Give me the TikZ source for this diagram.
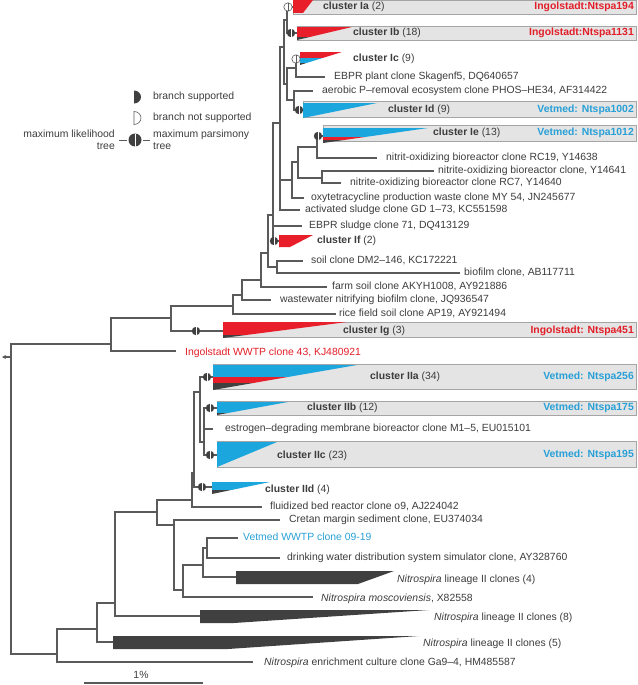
\documentclass[tikz,border=0pt]{standalone}
\usepackage{fontspec}
\setmainfont{Liberation Sans}
\usetikzlibrary{arrows.meta}
\definecolor{cred}{RGB}{232,30,42}
\definecolor{cblue}{RGB}{28,166,222}
\definecolor{cdark}{RGB}{64,64,64}
\definecolor{lgray}{RGB}{90,90,90}
\definecolor{txt}{RGB}{60,60,60}
\definecolor{boxfill}{RGB}{228,228,228}
\definecolor{boxline}{RGB}{165,165,165}
\definecolor{tred}{RGB}{226,30,40}
\definecolor{tblue}{RGB}{40,160,215}
\tikzset{
 br/.style={draw=lgray, line width=1.1pt},
 lab/.style={anchor=mid west, inner sep=0pt, text=txt, font=\fontsize{10.4}{12}\selectfont},
 rlab/.style={anchor=mid east, inner sep=0pt, font=\fontsize{10.4}{12}\selectfont\bfseries},
 cbox/.style={fill=boxfill, draw=boxline, line width=0.6pt},
}
\newcommand\supmark[1]{%
  \fill[cdark] (#1) circle[radius=4.2pt];
  \draw[white, line width=0.7pt] ([yshift=4.2pt]#1) -- ([yshift=-4.2pt]#1);}
\newcommand\nsupmark[1]{%
  \filldraw[fill=white, draw=lgray, line width=0.6pt] (#1) circle[radius=4.2pt];
  \draw[lgray, line width=0.6pt] ([yshift=4.2pt]#1) -- ([yshift=-4.2pt]#1);}
\begin{document}
\begin{tikzpicture}[x=1pt, y=-1pt]
\useasboundingbox (0,0) rectangle (637,685);
% ---------- boxes ----------
\path[cbox] (293,0) rectangle (636,14);
\path[cbox] (297,26) rectangle (636,40);
\path[cbox] (303,101) rectangle (636,117);
\path[cbox] (323,125) rectangle (636,141);
\path[cbox] (223,322) rectangle (636,337);
\path[cbox] (213,364) rectangle (636,389);
\path[cbox] (217,401) rectangle (636,415);
\path[cbox] (217,441) rectangle (636,467);
% ---------- tree coordinates ----------
\coordinate (R) at (11,357);
\coordinate (Rarr) at (2,357);
\coordinate (T) at (111,344);
\coordinate (U) at (171,318);
\coordinate (Lwwtp) at (176,351);
\coordinate (Q1) at (233,306);
\coordinate (Q2) at (242,295);
\coordinate (Q3) at (261,280);
\coordinate (Q4) at (268,253);
\coordinate (SB) at (277,267);
\coordinate (Q5) at (273,215);
\coordinate (B0) at (280,123);
\coordinate (J) at (292,180);
\coordinate (I) at (298,162);
\coordinate (IeRC) at (317,147);
\coordinate (H) at (322,178);
\coordinate (B1) at (284,47);
\coordinate (A) at (287,20);
\coordinate (D) at (287,84);
\coordinate (B) at (296,68);
\coordinate (C) at (294,100);
\coordinate (Ia) at (293,7);
\coordinate (Ib) at (297,33);
\coordinate (Ic) at (300,59);
\coordinate (Lebprp) at (325,77);
\coordinate (Laer) at (313,91);
\coordinate (Id) at (303,110);
\coordinate (Ie) at (323,136);
\coordinate (Lrc19) at (377,158);
\coordinate (Ly641) at (434,171);
\coordinate (Lrc7) at (341,183);
\coordinate (Loxy) at (304,198);
\coordinate (Lact) at (300,210);
\coordinate (Lebprs) at (302,226);
\coordinate (If) at (279,241);
\coordinate (Lsoil) at (303,261);
\coordinate (Lbio) at (460,273);
\coordinate (Lfarm) at (327,287);
\coordinate (Lwaste) at (271,300);
\coordinate (Lrice) at (336,314);
\coordinate (Ig) at (223,331);
\coordinate (N0) at (57,654);
\coordinate (N1) at (97,629);
\coordinate (N2) at (115,603);
\coordinate (N3) at (157,512);
\coordinate (N8) at (192,500);
\coordinate (N9) at (194,473);
\coordinate (N10) at (200,392);
\coordinate (N11) at (204,442);
\coordinate (N4) at (174,525);
\coordinate (N5) at (183,590);
\coordinate (N6) at (203,565);
\coordinate (N7) at (207,548);
\coordinate (IIa) at (213,377);
\coordinate (IIb) at (217,408);
\coordinate (Lestr) at (213,429);
\coordinate (IIc) at (217,455);
\coordinate (IId) at (212,487);
\coordinate (Lflu) at (262,507);
\coordinate (Lcre) at (280,520);
\coordinate (Lvet) at (238,538);
\coordinate (Ldri) at (280,558);
\coordinate (L4) at (236,577);
\coordinate (Lmos) at (313,597);
\coordinate (L8) at (200,616);
\coordinate (L5) at (113,642);
\coordinate (Lga) at (253,662);
% ---------- branches ----------
\draw[br, -{Stealth[length=4pt,width=4pt]}] (R) -- (Rarr);
\foreach \p/\c in {R/T, R/N0, T/U, T/Lwwtp, U/Q1, U/Ig, Q1/Q2, Q1/Lrice,
  Q2/Q3, Q2/Lwaste, Q3/Q4, Q3/Lfarm, Q4/Q5, Q4/SB, SB/Lsoil, SB/Lbio,
  Q5/B0, Q5/Lebprs, Q5/If, B0/B1, B0/J, B0/Lact, J/I, J/Loxy, I/IeRC, I/H,
  IeRC/Ie, IeRC/Lrc19, H/Ly641, H/Lrc7, B1/A, B1/D, A/Ia, A/Ib, D/B, D/C,
  B/Ic, B/Lebprp, C/Laer, C/Id,
  N0/N1, N0/Lga, N1/N2, N1/L5, N2/N3, N2/L8, N3/N8, N3/N4, N8/N9, N8/Lflu,
  N9/N10, N9/IId, N10/IIa, N10/N11, N11/IIb, N11/Lestr, N11/IIc,
  N4/Lcre, N4/N5, N5/N6, N5/Lmos, N6/N7, N6/L4, N7/Lvet, N7/Ldri}
  {\draw[br] (\p) |- (\c);}
% ---------- cluster shapes ----------
\fill[cred] (293,0) -- (313,0) -- (303,13) -- (293,13) -- cycle;
\begin{scope}
 \clip (297,27) -- (352,27) -- (297,40) -- cycle;
 \fill[cred] (297,27) rectangle (352,37.5);
 \fill[cdark] (297,37.5) rectangle (352,40);
\end{scope}
\begin{scope}
 \clip (300,52) -- (342,52) -- (300,65) -- cycle;
 \fill[cred] (300,52) rectangle (342,58);
 \fill[cblue] (300,58) rectangle (342,63);
 \fill[cdark] (300,63) rectangle (342,65);
\end{scope}
\fill[cblue] (303,103) -- (377,103) -- (303,118) -- cycle;
\begin{scope}
 \clip (323,128) -- (428,128) -- (323,143) -- cycle;
 \fill[cblue] (323,128) rectangle (428,137);
 \fill[cred] (323,137) rectangle (428,140);
 \fill[cdark] (323,140) rectangle (428,143);
\end{scope}
\fill[cred] (279,235) -- (313,235) -- (290,247) -- (279,247) -- cycle;
\begin{scope}
 \clip (223,322) -- (347,322) -- (223,338) -- cycle;
 \fill[cred] (223,322) rectangle (347,335);
 \fill[cdark] (223,335) rectangle (347,338);
\end{scope}
\begin{scope}
 \clip (213,365) -- (357,365) -- (213,390) -- cycle;
 \fill[cblue] (213,365) rectangle (357,377);
 \fill[cred] (213,377) rectangle (357,383);
 \fill[cdark] (213,383) rectangle (357,390);
\end{scope}
\begin{scope}
 \clip (217,402) -- (288,402) -- (217,415) -- cycle;
 \fill[cblue] (217,402) rectangle (288,412.5);
 \fill[cdark] (217,412.5) rectangle (288,415);
\end{scope}
\fill[cblue] (217,442) -- (277,442) -- (217,467) -- cycle;
\begin{scope}
 \clip (212,482) -- (270,482) -- (212,494) -- cycle;
 \fill[cblue] (212,482) rectangle (270,490);
 \fill[cdark] (212,490) rectangle (270,494);
\end{scope}
\fill[cdark] (236,571) -- (394,571) -- (358,584) -- (236,584) -- cycle;
\fill[cdark] (200,610) -- (429,610) -- (234,623) -- (200,623) -- cycle;
\fill[cdark] (113,636) -- (419,636) -- (228,649) -- (113,649) -- cycle;
% ---------- support markers ----------
\coordinate (mIa) at (288,7);
\coordinate (mIb) at (291,33);
\coordinate (mIc) at (296,59);
\coordinate (mId) at (299,110);
\coordinate (mIe) at (318,136);
\coordinate (mIf) at (274,241);
\coordinate (mIg) at (196,331);
\coordinate (mIIa) at (207,377);
\coordinate (mIIb) at (210,408);
\coordinate (mIIc) at (210,455);
\coordinate (mIId) at (202,487);
\nsupmark{mIa}
\supmark{mIb}
\nsupmark{mIc}
\supmark{mId}
\supmark{mIe}
\supmark{mIf}
\supmark{mIg}
\supmark{mIIa}
\supmark{mIIb}
\supmark{mIIc}
\supmark{mIId}
% ---------- leaf labels ----------
\node[lab] (tEbprp) at (334,77) {EBPR plant clone Skagenf5, DQ640657};
\node[lab] (tAer) at (322,91) {aerobic P–removal ecosystem clone PHOS–HE34, AF314422};
\node[lab] (tRc19) at (386,158) {nitrit-oxidizing bioreactor clone RC19, Y14638};
\node[lab] (tY641) at (438,171) {nitrite-oxidizing bioreactor clone, Y14641};
\node[lab] (tRc7) at (350,183) {nitrite-oxidizing bioreactor clone RC7, Y14640};
\node[lab] (tOxy) at (311,198) {oxytetracycline production waste clone MY 54, JN245677};
\node[lab] (tAct) at (305,210) {activated sludge clone GD 1–73, KC551598};
\node[lab] (tEbprs) at (309,226) {EBPR sludge clone 71, DQ413129};
\node[lab] (tSoil) at (311,261) {soil clone DM2–146, KC172221};
\node[lab] (tBio) at (464,273) {biofilm clone, AB117711};
\node[lab] (tFarm) at (332,287) {farm soil clone AKYH1008, AY921886};
\node[lab] (tWaste) at (280,300) {wastewater nitrifying biofilm clone, JQ936547};
\node[lab] (tRice) at (339,314) {rice field soil clone AP19, AY921494};
\node[lab, text=tred] (tWwtp) at (185,353) {Ingolstadt WWTP clone 43, KJ480921};
\node[lab] (tEstr) at (225,429) {estrogen–degrading membrane bioreactor clone M1–5, EU015101};
\node[lab] (tFlu) at (270,507) {fluidized bed reactor clone o9, AJ224042};
\node[lab] (tCre) at (289,520) {Cretan margin sediment clone, EU374034};
\node[lab, text=tblue] (tVet) at (243,538) {Vetmed WWTP clone 09-19};
\node[lab] (tDri) at (287,558) {drinking water distribution system simulator clone, AY328760};
\node[lab] (t4) at (397,580) {\textit{Nitrospira} lineage II clones (4)};
\node[lab] (tMos) at (321,599) {\textit{Nitrospira moscoviensis}, X82558};
\node[lab] (t8) at (434,618) {\textit{Nitrospira} lineage II clones (8)};
\node[lab] (t5) at (423,644) {\textit{Nitrospira} lineage II clones (5)};
\node[lab] (tGa) at (264,663) {\textit{Nitrospira} enrichment culture clone Ga9–4, HM485587};
% ---------- cluster labels ----------
\node[lab] (cIa) at (323,7) {\textbf{cluster Ia} (2)};
\node[lab] (cIb) at (353,33) {\textbf{cluster Ib} (18)};
\node[lab] (cIc) at (353,59) {\textbf{cluster Ic} (9)};
\node[lab] (cId) at (388,110) {\textbf{cluster Id} (9)};
\node[lab] (cIe) at (433,133) {\textbf{cluster Ie} (13)};
\node[lab] (cIf) at (317,241) {\textbf{cluster If} (2)};
\node[lab] (cIg) at (343,331) {\textbf{cluster Ig} (3)};
\node[lab] (cIIa) at (370,377) {\textbf{cluster IIa} (34)};
\node[lab] (cIIb) at (307,408) {\textbf{cluster IIb} (12)};
\node[lab] (cIIc) at (277,456) {\textbf{cluster IIc} (23)};
\node[lab] (cIId) at (265,490) {\textbf{cluster IId} (4)};
\node[rlab, text=tred] (rIa) at (634,7) {Ingolstadt:Ntspa194};
\node[rlab, text=tred] (rIb) at (634,33) {Ingolstadt:Ntspa1131};
\node[rlab, text=tblue] (rId) at (634,110) {Vetmed: Ntspa1002};
\node[rlab, text=tblue] (rIe) at (634,133) {Vetmed: Ntspa1012};
\node[rlab, text=tred] (rIg) at (634,331) {Ingolstadt: Ntspa451};
\node[rlab, text=tblue] (rIIa) at (634,377) {Vetmed: Ntspa256};
\node[rlab, text=tblue] (rIIb) at (634,408) {Vetmed: Ntspa175};
\node[rlab, text=tblue] (rIIc) at (634,455) {Vetmed: Ntspa195};
% ---------- legend ----------
\coordinate (lg1) at (134,97);
\coordinate (lg2) at (134,118);
\coordinate (lg3) at (135,140);
\fill[cdark] ([yshift=6.5pt]lg1) arc[start angle=90, end angle=-90, x radius=7pt, y radius=6.5pt] -- cycle;
\draw[lgray, line width=0.6pt] ([yshift=6.5pt]lg2) arc[start angle=90, end angle=-90, x radius=7pt, y radius=6.5pt] -- cycle;
\coordinate (lgL1) at (119,140);
\coordinate (lgL2) at (127,140);
\coordinate (lgR1) at (143,140);
\coordinate (lgR2) at (150,140);
\draw[br, line width=0.8pt] (lgL1) -- (lgL2);
\draw[br, line width=0.8pt] (lgR1) -- (lgR2);
\fill[cdark] (lg3) circle[radius=6.5pt];
\draw[white, line width=1pt] ([yshift=6.5pt]lg3) -- ([yshift=-6.5pt]lg3);
\node[lab] (lgt1) at (153,97) {branch supported};
\node[lab] (lgt2) at (153,118) {branch not supported};
\node[lab, anchor=mid east] (lgt3) at (115,135) {maximum likelihood};
\node[lab, anchor=mid east] (lgt4) at (115,147) {tree};
\node[lab] (lgt5) at (153,135) {maximum parsimony};
\node[lab] (lgt6) at (153,147) {tree};
% ---------- scale bar ----------
\coordinate (sb1) at (84,683);
\coordinate (sb2) at (203,683);
\draw[br] (sb1) -- (sb2);
\node[lab, anchor=mid] (tsb) at (141,676) {1\%};
\end{tikzpicture}
\end{document}
